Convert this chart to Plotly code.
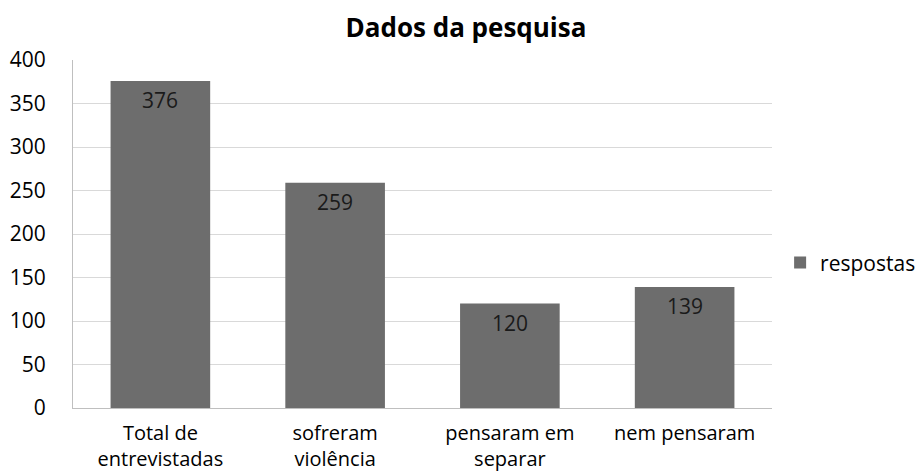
import plotly.graph_objects as go

categories = ["Total de<br>entrevistadas", "sofreram<br>violência", "pensaram em<br>separar", "nem pensaram"]
values = [376, 259, 120, 139]
series_name = "respostas"
y_ticks = [0, 50, 100, 150, 200, 250, 300, 350, 400]

font_family = "Open Sans"
bar_color = "#6d6d6d"
fs = 21

fig = go.Figure()
fig.add_trace(go.Bar(
    x=categories, y=values, name=series_name,
    marker=dict(color=bar_color, line=dict(width=0)),
    width=0.57,
    showlegend=True,
))

for c, v in zip(categories, values):
    fig.add_annotation(x=c, y=v, text=str(v), showarrow=False,
                       yanchor="middle", yshift=-19,
                       font=dict(family=font_family, size=fs, color="#1a1a1a"))

fig.update_layout(
    width=918, height=471,
    margin=dict(l=73, r=146, t=60, b=63),
    paper_bgcolor="white", plot_bgcolor="white",
    title=dict(text="<b>Dados da pesquisa</b>", xref="container", x=0.5076,
               xanchor="center", yref="container", y=0.94, yanchor="middle",
               font=dict(family=font_family, size=26, color="black")),
    font=dict(family=font_family, size=fs, color="black"),
    showlegend=True,
    legend=dict(xref="container", x=0.8498, xanchor="left",
                yref="container", y=0.442, yanchor="middle",
                font=dict(family=font_family, size=fs, color="black"),
                itemwidth=30, bgcolor="rgba(0,0,0,0)"),
)
fig.update_xaxes(showline=True, linecolor="#bfbfbf", linewidth=1,
                 ticks="", ticklabelstandoff=7, automargin=False,
                 tickfont=dict(family=font_family, size=20, color="black"))
fig.update_yaxes(range=[0, 400], tickvals=y_ticks, showgrid=True,
                 gridcolor="#d9d9d9", gridwidth=1, showline=True,
                 linecolor="#bfbfbf", linewidth=1, zeroline=False,
                 ticks="", ticklabelstandoff=22, automargin=False,
                 tickfont=dict(family=font_family, size=fs, color="black"))

fig.write_html("out.html", config={"displayModeBar": False},
               post_script="document.body.style.margin='0';document.body.style.overflow='hidden';")
